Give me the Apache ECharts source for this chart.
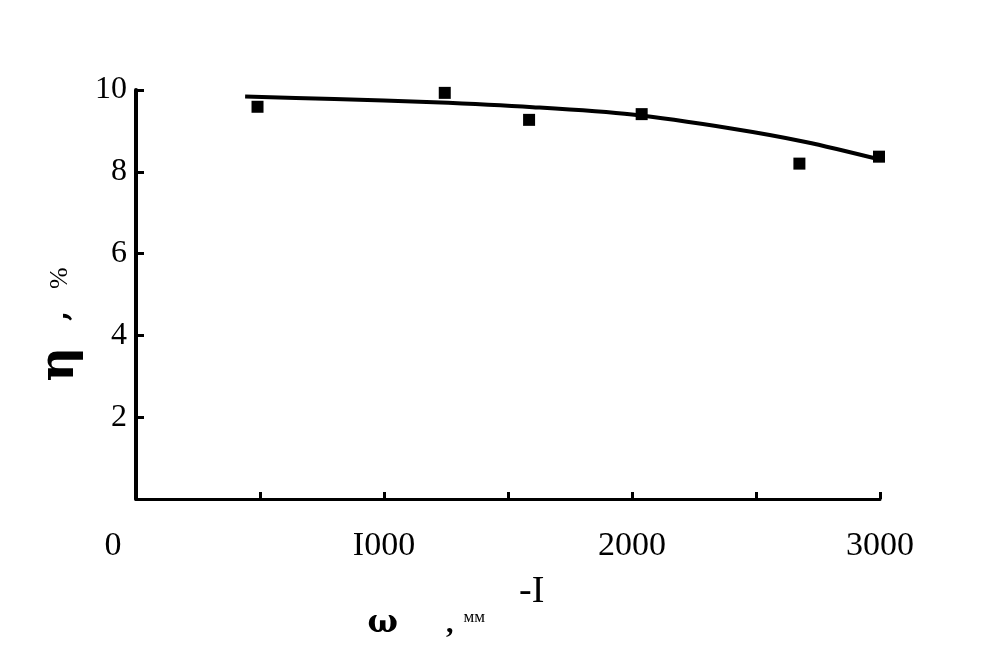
<!DOCTYPE html>
<html><head><meta charset="utf-8">
<script src="https://cdn.jsdelivr.net/npm/echarts@6/dist/echarts.min.js"></script>
<style>html,body{margin:0;padding:0;background:#fff}#c{width:985px;height:645px}</style>
</head><body><div id="c"></div>
<script>
// measured points (x: ω, mm^-1 ; y: η, %)
const pointX = [490, 1245, 1585, 2039, 2675, 2996];
const pointY = [9.59, 9.93, 9.27, 9.41, 8.20, 8.37];
// fitted curve as drawn
const curveX = [440, 800, 1200, 1600, 2000, 2400, 2700, 3000];
const curveY = [9.84, 9.78, 9.70, 9.58, 9.40, 9.06, 8.73, 8.30];
const xTickLabels = {0: '0', 1000: 'I000', 2000: '2000', 3000: '3000'};
const yTickLabels = {2: '2', 4: '4', 6: '6', 8: '8', 10: '10'};

const chart = echarts.init(document.getElementById('c'));
const ink = '#000';
chart.setOption({
  backgroundColor: '#fff',
  animation: false,
  grid: {left: 136, right: 105, top: 90, bottom: 144},
  xAxis: {
    type: 'value', min: 0, max: 3000, interval: 500,
    axisLine: {lineStyle: {color: ink, width: 3}},
    axisTick: {inside: true, length: 7, lineStyle: {color: ink, width: 3}},
    splitLine: {show: false},
    axisLabel: {
      margin: 30, color: ink, fontFamily: 'Liberation Serif', fontSize: 34,
      formatter: v => v === 0 ? '{z|0}' : (xTickLabels[v] || ''),
      rich: {z: {fontFamily: 'Liberation Serif', fontSize: 34, color: ink, padding: [0, 46, 0, 0]}}
    },
    name: '{w|ω}{c|,}{mm|мм}{sup|-I}',
    nameLocation: 'middle', nameGap: 74,
    nameTextStyle: {
      padding: [0, 104, 0, 0],
      rich: {
        w: {fontFamily: 'DejaVu Serif', fontWeight: 'bold', fontSize: 32, color: ink, padding: [0, 48, 0, 0]},
        c: {fontFamily: 'Liberation Serif', fontWeight: 'bold', fontSize: 30, color: ink, padding: [0, 10, 0, 0]},
        mm: {fontFamily: 'Liberation Serif', fontSize: 17, color: ink, padding: [0, 34, 12, 0]},
        sup: {fontFamily: 'Liberation Serif', fontSize: 38, color: ink, padding: [0, 0, 64, 0]}
      }
    }
  },
  yAxis: {
    type: 'value', min: 0, max: 10, interval: 2,
    axisLine: {lineStyle: {color: ink, width: 4}},
    axisTick: {inside: true, length: 8, lineStyle: {color: ink, width: 3}},
    splitLine: {show: false},
    axisLabel: {
      margin: 9, color: ink, fontFamily: 'Liberation Serif', fontSize: 32,
      formatter: v => yTickLabels[v] || ''
    },
    name: '{e|η}{d|,}{p|%}',
    nameLocation: 'middle', nameRotate: 90, nameGap: 40,
    nameTextStyle: {
      padding: [0, 60, 0, 0],
      rich: {
        e: {fontFamily: 'DejaVu Serif', fontWeight: 'bold', fontSize: 48, color: ink, padding: [0, 26, 0, 0]},
        d: {fontFamily: 'DejaVu Serif', fontWeight: 'bold', fontSize: 28, color: ink, padding: [0, 22, 0, 0]},
        p: {fontFamily: 'Liberation Serif', fontSize: 26, color: ink}
      }
    }
  },
  series: [
    {
      type: 'line', smooth: 0.3, symbol: 'none',
      data: curveX.map((x, i) => [x, curveY[i]]),
      lineStyle: {color: ink, width: 4}, z: 2
    },
    {
      type: 'scatter', symbol: 'rect', symbolSize: [12, 12],
      data: pointX.map((x, i) => [x, pointY[i]]),
      itemStyle: {color: ink, opacity: 1}, z: 3
    }
  ]
});
</script></body></html>
